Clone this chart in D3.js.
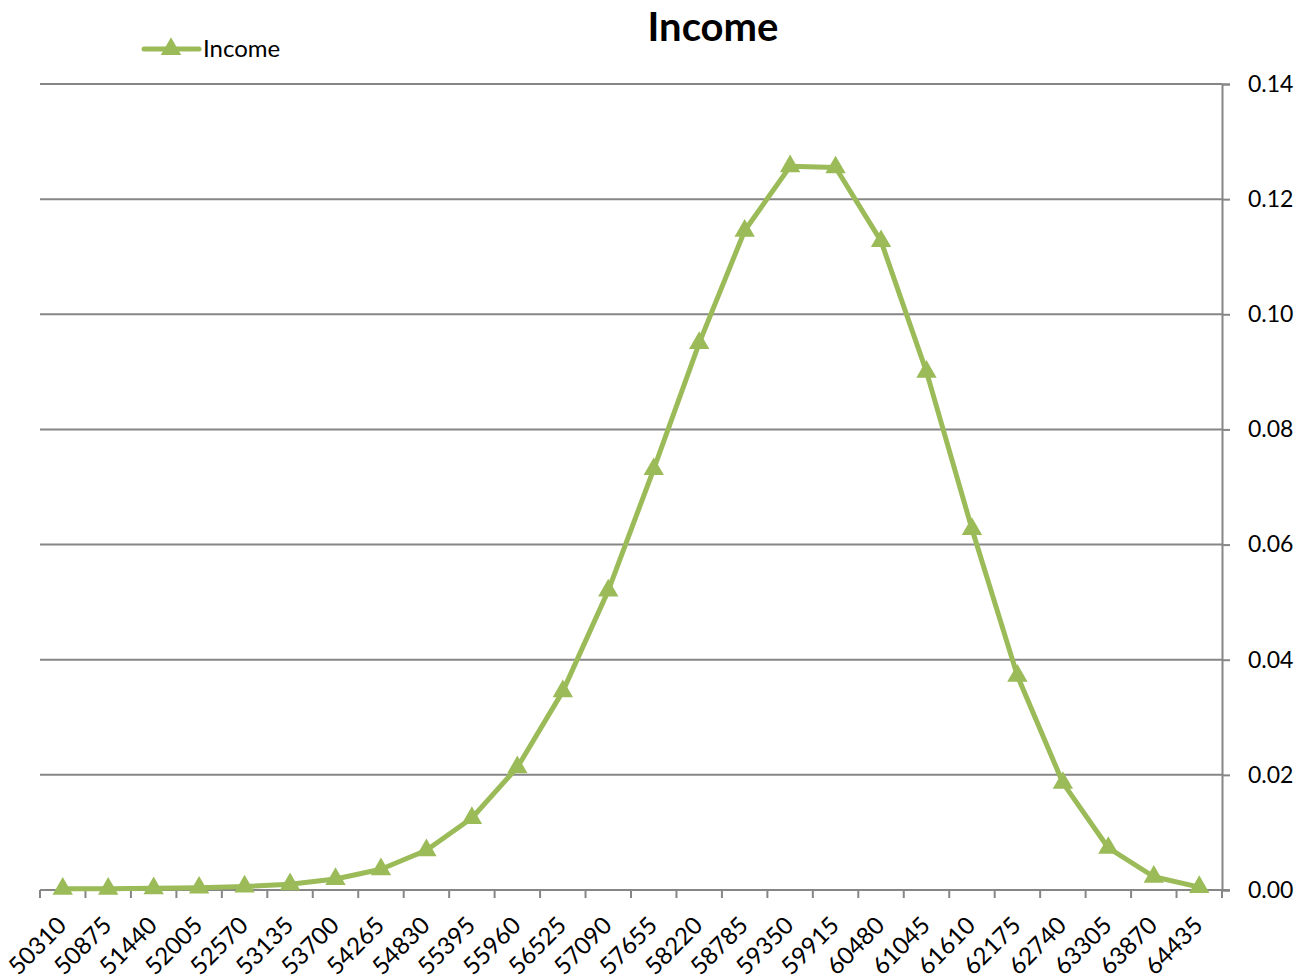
<!DOCTYPE html>
<html>
<head>
<meta charset="utf-8">
<script src="https://cdn.jsdelivr.net/npm/d3@7"></script>
<style>
  body { margin: 0; background: #fff; }
  text { font-family: Lato, "Open Sans", sans-serif; fill: #000; }
</style>
</head>
<body>
<svg id="chart" width="1304" height="980"></svg>
<script>
// categories (income buckets) and density values
const categories = ["50310", "50875", "51440", "52005", "52570", "53135", "53700", "54265", "54830",
  "55395", "55960", "56525", "57090", "57655", "58220", "58785", "59350", "59915", "60480",
  "61045", "61610", "62175", "62740", "63305", "63870", "64435"]
const incomeValues = [0.0002, 0.0002, 0.0003, 0.0004, 0.0006, 0.0010, 0.0019, 0.0036, 0.0069,
  0.0125, 0.0213, 0.0345, 0.0520, 0.0731, 0.0950, 0.1145, 0.1257, 0.1255, 0.1127,
  0.0900, 0.0627, 0.0372, 0.0186, 0.0073, 0.0023, 0.0005]
const yTicks = [0, 0.02, 0.04, 0.06, 0.08, 0.10, 0.12, 0.14]

const green = "#9bbb59"
const gray = "#868686"

const svg = d3.select("#chart")
const plotLeft = 40, plotRight = 1222, plotTop = 84, plotBottom = 890

const x = d3.scaleBand().domain(categories).range([plotLeft, plotRight])
const y = d3.scaleLinear().domain([0, 0.14]).range([plotBottom, plotTop])

// gridlines
svg.append("g")
  .selectAll("line")
  .data(yTicks.slice(1))
  .enter()
  .append("line")
  .attr("x1", plotLeft)
  .attr("x2", plotRight)
  .attr("y1", d => y(d))
  .attr("y2", d => y(d))
  .attr("stroke", gray)
  .attr("stroke-width", 2)

// right axis
const yAxis = svg.append("g")
  .attr("transform", "translate(" + plotRight + ",0)")
  .call(d3.axisRight(y).tickValues(yTicks).tickFormat(d3.format(".2f")).tickSize(8).tickPadding(18))
yAxis.select(".domain").attr("stroke", gray).attr("stroke-width", 2)
yAxis.selectAll(".tick line").attr("stroke", gray).attr("stroke-width", 2)
yAxis.selectAll("text")
  .attr("font-size", "23px")
  .attr("font-family", "Lato, 'Open Sans', sans-serif")
  .attr("fill", "#000")

// bottom axis: line + ticks at band boundaries
svg.append("line")
  .attr("x1", plotLeft).attr("x2", plotRight + 8)
  .attr("y1", plotBottom).attr("y2", plotBottom)
  .attr("stroke", gray).attr("stroke-width", 2)

const bounds = categories.map(c => x(c)).concat([plotRight])
svg.append("g")
  .selectAll("line")
  .data(bounds)
  .enter()
  .append("line")
  .attr("x1", d => d).attr("x2", d => d)
  .attr("y1", plotBottom).attr("y2", plotBottom + 8)
  .attr("stroke", gray).attr("stroke-width", 2)

svg.append("g")
  .selectAll("text")
  .data(categories)
  .enter()
  .append("text")
  .text(d => d)
  .attr("font-size", "24px")
  .attr("text-anchor", "end")
  .attr("transform", d => "translate(" + (x(d) + x.bandwidth() / 2 + 5) + "," + (plotBottom + 37) + ") rotate(-45)")

// line
const line = d3.line()
  .x((d, i) => x(categories[i]) + x.bandwidth() / 2)
  .y(d => y(d))

svg.append("path")
  .datum(incomeValues)
  .attr("d", line)
  .attr("fill", "none")
  .attr("stroke", green)
  .attr("stroke-width", 5)
  .attr("stroke-linejoin", "round")

const tri = d3.symbol().type(d3.symbolTriangle).size(180)

svg.append("g")
  .selectAll("path")
  .data(incomeValues)
  .enter()
  .append("path")
  .attr("d", tri)
  .attr("transform", (d, i) => "translate(" + (x(categories[i]) + x.bandwidth() / 2) + "," + y(d) + ")")
  .attr("fill", green)

// title
svg.append("text")
  .text("Income")
  .attr("x", 713)
  .attr("y", 41)
  .attr("text-anchor", "middle")
  .attr("font-size", "40px")
  .attr("font-weight", "bold")

// legend
svg.append("line")
  .attr("x1", 144).attr("x2", 199)
  .attr("y1", 49).attr("y2", 49)
  .attr("stroke", green).attr("stroke-width", 5).attr("stroke-linecap", "round")
svg.append("path")
  .attr("d", tri)
  .attr("transform", "translate(171,49)")
  .attr("fill", green)
svg.append("text")
  .text("Income")
  .attr("x", 203)
  .attr("y", 57)
  .attr("font-size", "24px")
</script>
</body>
</html>
